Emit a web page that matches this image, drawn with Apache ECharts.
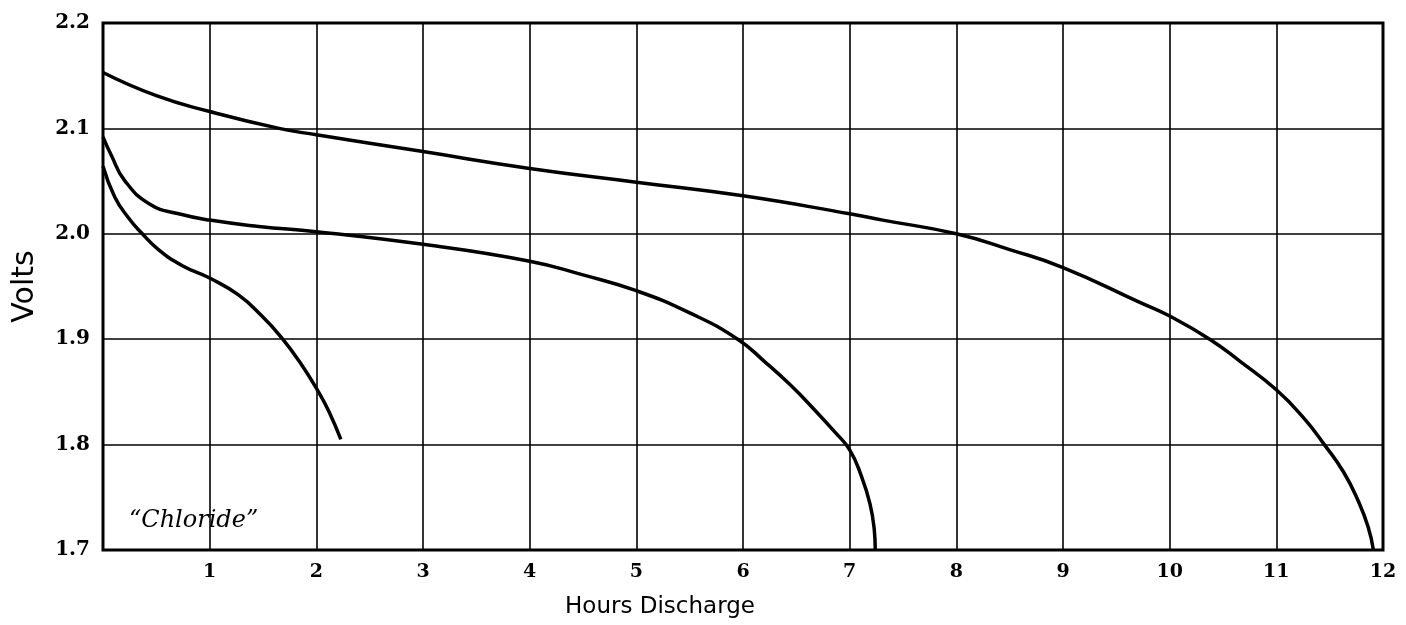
<!DOCTYPE html>
<html>
<head>
<meta charset="utf-8">
<script src="https://cdn.jsdelivr.net/npm/echarts@6/dist/echarts.min.js"></script>
<style>
  html, body { margin: 0; padding: 0; background: #fff; }
  #chart { width: 1406px; height: 625px; }
</style>
</head>
<body>
<div id="chart"></div>
<script>
// discharge curves (hours, volts)
var hours12 = [0, 0.5, 1, 1.65, 2, 3, 4, 5, 6, 7, 7.31, 8, 8.5, 9, 9.72, 10, 10.375, 10.66, 11, 11.25, 11.45, 11.63, 11.77, 11.86, 11.91];
var volts12 = [2.153, 2.131, 2.116, 2.1, 2.094, 2.078, 2.062, 2.049, 2.036, 2.019, 2.013, 2.0, 1.985, 1.968, 1.935, 1.922, 1.9, 1.879, 1.852, 1.826, 1.8, 1.774, 1.746, 1.722, 1.7];

var hours7 = [0, 0.08, 0.2, 0.44, 0.71, 1, 1.46, 2, 3, 4, 4.5, 5, 5.5, 5.95, 6.2, 6.45, 6.67, 6.86, 7.0, 7.11, 7.19, 7.23, 7.24];
var volts7 = [2.092, 2.074, 2.051, 2.028, 2.019, 2.013, 2.007, 2.002, 1.99, 1.974, 1.961, 1.946, 1.925, 1.9, 1.879, 1.856, 1.833, 1.812, 1.795, 1.770, 1.744, 1.72, 1.7];

var hours2 = [0, 0.11, 0.24, 0.36, 0.52, 0.74, 1.0, 1.27, 1.49, 1.67, 1.84, 2.02, 2.12, 2.23];
var volts2 = [2.064, 2.035, 2.015, 2.001, 1.985, 1.97, 1.958, 1.942, 1.922, 1.902, 1.879, 1.85, 1.831, 1.805];

function pairs(xs, ys){
  var out = [];
  for(var i=0;i<xs.length;i++){
    out.push([xs[i], ys[i]]);
  }
  return out;
}

var curves = [pairs(hours12, volts12), pairs(hours7, volts7), pairs(hours2, volts2)];
var series_data = [];
for(var i=0;i<curves.length;i++){
  series_data.push({
    type: 'line',
    data: curves[i],
    smooth: 0.5,
    showSymbol: false,
    silent: true,
    lineStyle: {color: '#000', width: 3.5}
  });
}

var myChart = echarts.init(document.getElementById('chart'));
var option = {
  animation: false,
  grid: {
    left: 103, right: 23, top: 23, bottom: 75,
    show: true,
    borderColor: '#000',
    borderWidth: 3
  },
  xAxis: {
    type: 'value',
    min: 0, max: 12, interval: 1,
    name: 'Hours Discharge',
    nameLocation: 'middle',
    nameGap: 46,
    nameTextStyle: {fontFamily: 'DejaVu Sans', fontSize: 23, color: '#000', padding: [0, 166, 0, 0]},
    axisLine: {show: false},
    axisTick: {show: false},
    axisLabel: {
      margin: 13,
      fontSize: 19,
      fontFamily: 'DejaVu Serif', fontWeight: 'bold', color: '#000',
      formatter: function(value){ return value == 0 ? '' : value; }
    },
    splitLine: {lineStyle: {color: '#000', width: 1.6}}
  },
  yAxis: {
    type: 'value',
    min: 1.7, max: 2.2, interval: 0.1,
    name: 'Volts',
    nameLocation: 'middle',
    nameGap: 63,
    nameRotate: 90,
    nameTextStyle: {fontFamily: 'DejaVu Sans', fontSize: 30, color: '#000'},
    axisLine: {show: false},
    axisTick: {show: false},
    axisLabel: {
      margin: 13,
      fontSize: 20,
      fontFamily: 'DejaVu Serif', fontWeight: 'bold', color: '#000',
      formatter: function(value){ return value.toFixed(1); }
    },
    splitLine: {lineStyle: {color: '#000', width: 1.6}}
  },
  graphic: [{
    type: 'text',
    left: 129,
    top: 509,
    style: {
      text: '\u201CChloride\u201D',
      fontFamily: 'DejaVu Serif',
      fontStyle: 'italic',
      fontSize: 24,
      fill: '#000'
    }
  }],
  series: series_data
};
myChart.setOption(option);
</script>
</body>
</html>
